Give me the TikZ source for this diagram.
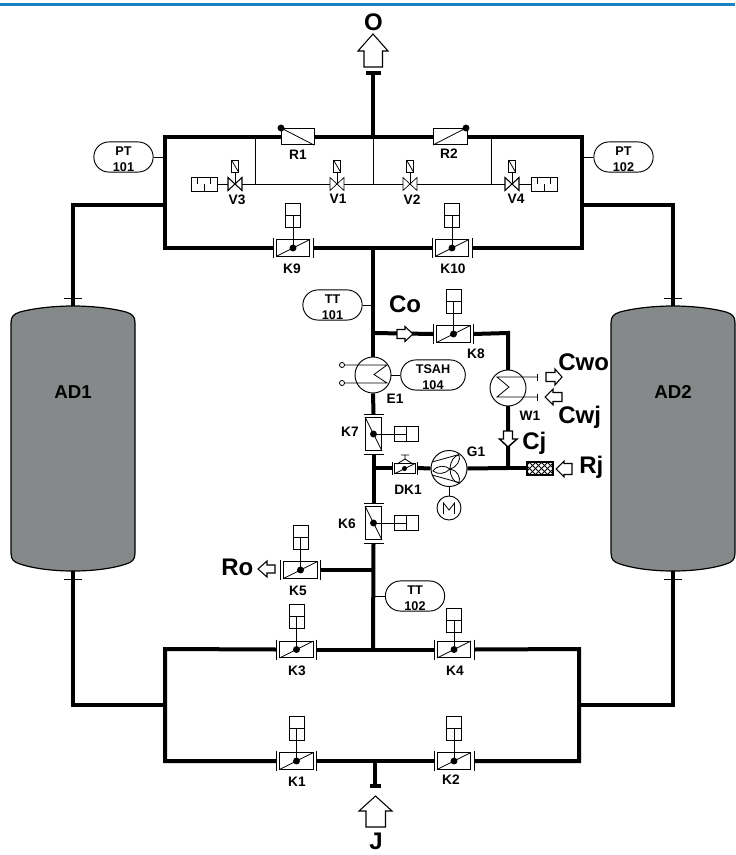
\documentclass[tikz,border=0pt]{standalone}
\usepackage{fontspec}
\setmainfont{Liberation Sans}
\usetikzlibrary{shapes.misc}
\definecolor{topblue}{RGB}{24,130,196}
\definecolor{tankgrey}{RGB}{134,137,138}
\newcommand{\tg}[2]{\rule{0pt}{10.5pt}#1\\#2}
\tikzset{
  pipe/.style={line width=3pt,line cap=butt,line join=miter},
  thin line/.style={line width=0.6pt},
  part/.style={draw,line width=0.7pt,fill=white},
  bx/.style={part,rectangle,inner sep=0pt},
  lab/.style={font=\bfseries\fontsize{10.3}{12}\selectfont,inner sep=0pt},
  biglab/.style={font=\bfseries\fontsize{18}{20}\selectfont,inner sep=0pt},
  tag/.style={draw,line width=0.7pt,fill=white,rounded rectangle,inner sep=0pt,align=center,
     minimum width=44.5pt,minimum height=21pt,font=\bfseries\fontsize{9.5}{12}\selectfont},
  circ/.style={draw,line width=0.7pt,fill=white,circle,inner sep=0pt,minimum size=27pt},
  dot/.style={fill=black,circle,inner sep=0pt,minimum size=5.2pt},
  tank/.style={draw,line width=0.9pt,fill=tankgrey},
  blockarrow/.style={draw,line width=0.8pt,fill=white,line join=miter},
}
% horizontal damper: name, x, y, actuator offset
\newcommand{\dampH}[4]{%
 \begin{scope}[shift={(#2,#3)}]
  \node[bx,minimum width=25pt,minimum height=12.6pt] (#1) at (0,0) {};
  \draw[thin line] (-17,8.5) -- (17,-8.5);
  \coordinate (#1L) at (-20,0); \coordinate (#1R) at (20,0);
  \draw[thin line] (-20,-10) -- (-20,10) (20,-10) -- (20,10);
  \coordinate (#1a) at (0,-33+#4);
  \draw[thin line] (#1a) -- (#1.center);
  \draw[part,fill=none] (-7.5,-45+#4) rectangle (7.5,-21+#4);
  \draw[thin line] (-7.5,-33+#4) -- (7.5,-33+#4);
  \node[dot] (#1d) at (0,0) {};
 \end{scope}}
% vertical damper: name, x, y
\newcommand{\dampV}[3]{%
 \begin{scope}[shift={(#2,#3)}]
  \node[bx,minimum width=12.6pt,minimum height=25pt] (#1) at (0,0) {};
  \draw[thin line] (-8.5,-17) -- (8.5,17);
  \coordinate (#1T) at (0,-20); \coordinate (#1B) at (0,20);
  \draw[thin line] (-10,-20) -- (10,-20) (-10,20) -- (10,20);
  \coordinate (#1a) at (33,0);
  \draw[thin line] (#1a) -- (#1.center);
  \draw[part,fill=none] (21,-7.5) rectangle (45,7.5);
  \draw[thin line] (33,-7.5) -- (33,7.5);
  \node[dot] (#1d) at (0,0) {};
 \end{scope}}
% needle valve: name, x, y, stroke
\newcommand{\needle}[4]{%
 \begin{scope}[shift={(#2,#3)}]
  \coordinate (#1) at (0,0);
  \draw[thin line] (0,0) -- (0,-12);
  \draw[line width=#4,fill=white,line join=miter] (-7,-6.5) -- (7,6.5) -- (7,-6.5) -- (-7,6.5) -- cycle;
  \draw[thin line,fill=white] (-3.5,-24) rectangle (3.5,-12);
  \draw[thin line] (-3.5,-24) -- (3.5,-12);
 \end{scope}}
\newcommand{\silencer}[3]{%
 \begin{scope}[shift={(#2,#3)}]
  \node[bx,minimum width=19.5pt,minimum height=9.8pt] (#1) at (0,0) {};
  \draw[thin line] (-6.5,-6.5) -- (-6.5,0) (0,6.5) -- (0,0) (6.5,-6.5) -- (6.5,0);
 \end{scope}}
\begin{document}
\begin{tikzpicture}[x=0.75pt,y=-0.75pt]
\useasboundingbox (0,0) rectangle (735,855);
\fill[topblue] (0,3) rectangle (735,6);

% junctions
\coordinate (tTL) at (165,137); \coordinate (tBL) at (165,248);
\coordinate (tTR) at (582,137); \coordinate (tBR) at (582,248);
\coordinate (tTC) at (373,137); \coordinate (tBC) at (373,248);
\coordinate (top) at (373,73);
\coordinate (bTL) at (165,649); \coordinate (bBL) at (165,761);
\coordinate (bTR) at (579,649); \coordinate (bBR) at (579,761);
\coordinate (bTC) at (373,649); \coordinate (bBC) at (375,761);
\coordinate (bot) at (375,786);
\coordinate (lU) at (165,205); \coordinate (rU) at (582,205);
\coordinate (lL) at (165,705); \coordinate (rL) at (579,705);
\coordinate (a1uc) at (73,205); \coordinate (a2uc) at (673,205);
\coordinate (a1lc) at (73,705); \coordinate (a2lc) at (673,705);
\coordinate (a1t) at (73,306); \coordinate (a1b) at (73,571);
\coordinate (a2t) at (673,306); \coordinate (a2b) at (673,571);
\coordinate (br8) at (373,333); \coordinate (cW) at (508,333);
\coordinate (j8) at (508,468); \coordinate (jD) at (373,468);
\coordinate (j5) at (373,570);
\coordinate (Rw) at (281,137); \coordinate (Re) at (314,137);
\coordinate (Sw) at (433,137); \coordinate (Se) at (467,137);

% tanks
\foreach \cx/\nm in {73/AD1,673/AD2}{
 \begin{scope}[shift={(\cx,0)}]
 \draw[tank] (-62,323) .. controls (-62,316) and (-59,314) .. (-53,312)
   .. controls (-38,308) and (-18,306) .. (0,306)
   .. controls (18,306) and (38,308) .. (53,312)
   .. controls (59,314) and (62,316) .. (62,323)
   -- (62,553) .. controls (62,560) and (59,562) .. (53,564)
   .. controls (38,569) and (18,571) .. (0,571)
   .. controls (-18,571) and (-38,569) .. (-53,564)
   .. controls (-59,562) and (-62,560) .. (-62,553) -- cycle;
 \end{scope}}
\node[font=\bfseries\fontsize{14}{16}\selectfont,inner sep=0pt] (AD1) at (73,392) {AD1};
\node[font=\bfseries\fontsize{14}{16}\selectfont,inner sep=0pt] (AD2) at (673,392) {AD2};
\draw[thin line] (64,298) -- (82,298) (64,579) -- (82,579) (664,298) -- (682,298) (664,579) -- (682,579);

% dampers
\dampH{K9}{293}{248}{0}
\dampH{K10}{452}{248}{0}
\dampH{K8}{453.5}{334}{0}
\dampH{K5}{300.5}{570}{0}
\dampH{K3}{296.5}{649.5}{0}
\dampH{K4}{454}{649.5}{4}
\dampH{K1}{296.5}{761}{0}
\dampH{K2}{454}{761}{0}
\dampV{K7}{373.5}{434}
\dampV{K6}{373.5}{523}

% main pipes
\draw[pipe] (Rw) -- (tTL) -- (tBL) -- (K9L);
\draw[pipe] (Se) -- (tTR) -- (tBR) -- (K10R);
\draw[pipe] (Re) -- (Sw);
\draw[pipe] (K9R) -- (K10L);
\draw[pipe] (top) -- (tTC);
\draw[pipe] (tBC) -- (373,357);
\draw[line width=3pt] (366,73) -- (381,73);
\draw[pipe] (lU) -- (a1uc) -- (a1t);
\draw[pipe] (rU) -- (a2uc) -- (a2t);
\draw[pipe] (a1b) -- (a1lc) -- (lL);
\draw[pipe] (a2b) -- (a2lc) -- (rL);
\draw[pipe] (K3L) -- (bTL) -- (bBL) -- (K1L);
\draw[pipe] (K4R) -- (bTR) -- (bBR) -- (K2R);
\draw[pipe] (K3R) -- (K4L);
\draw[pipe] (K1R) -- (K2L);
\draw[pipe] (bBC) -- (bot);
\draw[line width=3pt] (370,786) -- (381,786);
\draw[pipe] (K6B) -- (bTC);
\draw[pipe] (K7B) -- (K6T);
\draw[pipe] (K5R) -- (j5);
\draw[pipe] (br8) -- (K8L);
\draw[pipe] (K8R) -- (cW) -- (j8);
\draw[pipe] (j8) -- (527,468);

% R1 R2 check flaps
\node[bx,minimum width=24.7pt,minimum height=12.7pt] (R1box) at (297.5,136.5) {};
\draw[thin line] (281,128) -- (314,145);
\node[dot] (R1d) at (281,128) {};
\node[bx,minimum width=25.5pt,minimum height=12.7pt] (R2box) at (450,136.5) {};
\draw[thin line] (433,145) -- (466,128);
\node[dot] (R2d) at (466,128) {};

% thin instrument air branch
\coordinate (n1) at (255,137); \coordinate (n1b) at (255,184);
\coordinate (n2) at (373,137); \coordinate (n2b) at (373,184);
\coordinate (n3) at (491,137); \coordinate (n3b) at (491,184);
\draw[thin line] (n1) -- (n1b) (n2) -- (n2b) (n3) -- (n3b);
\silencer{S1}{204}{184.5}
\silencer{S2}{544}{184.5}
\draw[thin line] (S1.east) -- (S2.west);
\needle{V3}{235}{184}{0.8pt}
\needle{V1}{337}{184}{0.5pt}
\needle{V2}{410}{184}{0.5pt}
\needle{V4}{512}{184}{0.8pt}

% instrument tags
\node[tag] (PT1) at (123.5,157) {\tg{PT}{101}};
\node[tag] (PT2) at (623.5,157) {\tg{PT}{102}};
\node[tag] (TT1) at (332.5,305) {\tg{TT}{101}};
\node[tag] (TT2) at (415,596) {\tg{TT}{102}};
\draw[thin line] (PT1.east) -- (165,157);
\draw[thin line] (PT2.west) -- (582,157);
\draw[thin line] (TT1.east) -- (373,305);
\draw[thin line] (TT2.west) -- (373,596);

% E1
\node[circ] (E1) at (373,375) {};
\draw[pipe] (E1.south) -- (K7T);
\draw[thin line] (344.5,365) -- (387,365) -- (374,374.5) -- (387,383) -- (344.5,383);
\node[draw,thin line,circle,inner sep=0pt,minimum size=3.8pt] (e1a) at (342,365) {};
\node[draw,thin line,circle,inner sep=0pt,minimum size=3.8pt] (e1b) at (342,383) {};
\node[tag] (TS) at (433,375) {\tg{TSAH}{104}};
\draw[thin line] (E1.east) -- (TS.west);

% W1
\node[circ] (W1) at (508,388) {};
\draw[thin line] (537,377) -- (497,377) -- (509,387) -- (497,397) -- (537,397);
\draw[thin line] (537,373.5) -- (537,380.5) (537,393.5) -- (537,400.5);
\draw[blockarrow] (546,372.5) -- (555,372.5) -- (555,369) -- (562,377) -- (555,385) -- (555,381.5) -- (546,381.5) -- cycle;
\draw[blockarrow] (562,392.5) -- (553,392.5) -- (553,389) -- (545,397) -- (553,405) -- (553,401.5) -- (562,401.5) -- cycle;

% inline arrows
\draw[blockarrow] (397,329.5) -- (405,329.5) -- (405,326.5) -- (413,334) -- (405,341.5) -- (405,338.5) -- (397,338.5) -- cycle;
\draw[blockarrow,line width=1.1pt] (503.5,431) -- (512.5,431) -- (512.5,439) -- (517,439) -- (508,447) -- (499.5,439) -- (503.5,439) -- cycle;

% filter
\node[draw,line width=0.9pt,fill=white,rectangle,inner sep=0pt,minimum width=19.5pt,minimum height=9.8pt] (filt) at (540,468.5) {};
\begin{scope}
 \clip (527,462) rectangle (553,475);
 \foreach \d in {-16,-10,...,32}{
  \draw[line width=0.6pt] (527+\d,475) -- (527+\d+13,462);
  \draw[line width=0.6pt] (527+\d,462) -- (527+\d+13,475);
 }
\end{scope}
\draw[blockarrow] (572,463.5) -- (564,463.5) -- (564,461) -- (556,469) -- (564,477) -- (564,474.5) -- (572,474.5) -- cycle;

% DK1
\node[bx,minimum width=15.7pt,minimum height=7.6pt] (DK) at (404.5,468.5) {};
\draw[thin line] (394,474) -- (415,463.5);
\draw[thin line] (397,464) -- (405,459) -- (413,464) (405,459) -- (405,455) (401,455) -- (409,455);
\draw[thin line] (392,462) -- (392,475) (417,462) -- (417,475);
\node[dot,minimum size=3.8pt] (DKd) at (404.5,468.5) {};
\coordinate (DKl) at (392,468); \coordinate (DKr) at (417,468);
\draw[pipe] (jD) -- (DKl);
\node[circ] (G1) at (449,468.5) {};
\draw[pipe] (DKr) -- (G1.west);
\draw[pipe] (G1.east) -- (j8);
\draw[thin line] (432,462) -- (459,454.5) (432,475) -- (459,482.5);
\draw[thin line] (450,469) .. controls (450,461) and (455,455) .. (459,455) .. controls (461,460) and (457,467) .. (450,469);
\draw[thin line] (450,469) .. controls (457,470) and (461,477) .. (459,483) .. controls (454,483) and (450,476) .. (450,469);
\draw[thin line] (450,469) .. controls (445,474) and (438,475) .. (433,471) .. controls (437,465) and (445,465) .. (450,469);
\node[circ,minimum size=18pt] (M) at (449,508) {};
\draw[thin line] (G1.south) -- (M.north);
\draw[thin line] (443.5,514) -- (443.5,503) -- (449,510) -- (454.5,503) -- (454.5,514);

% flow arrows
\draw[blockarrow] (373,34) -- (388,51) -- (382.5,51) -- (382.5,67) -- (364,67) -- (364,51) -- (358,51) -- cycle;
\draw[blockarrow] (375.5,796) -- (392,811) -- (385.5,811) -- (385.5,827) -- (366,827) -- (366,811) -- (359,811) -- cycle;
\draw[blockarrow] (275,565) -- (267,565) -- (267,561) -- (258,569) -- (267,577) -- (267,573) -- (275,573) -- cycle;

% labels
\node[biglab] (lO) at (373.5,22) {O};
\node[biglab] (lJ) at (376,841) {J};
\node[biglab] (lCo) at (405,304) {Co};
\node[biglab,anchor=west] (lCwo) at (558,362) {Cwo};
\node[biglab,anchor=west] (lCwj) at (558,417) {Cwj};
\node[biglab,anchor=west] (lCj) at (522,443) {Cj};
\node[biglab,anchor=west] (lRj) at (579,467) {Rj};
\node[biglab,anchor=west] (lRo) at (221,567) {Ro};
\node[lab] (lR1) at (298,155) {R1};
\node[lab] (lR2) at (449,154) {R2};
\node[lab] (lV3) at (237,200) {V3};
\node[lab] (lV1) at (338,199) {V1};
\node[lab] (lV2) at (412,200) {V2};
\node[lab] (lV4) at (516,199) {V4};
\node[lab] (lK9) at (292,269) {K9};
\node[lab] (lK10) at (453,269) {K10};
\node[lab] (lK8) at (476,354) {K8};
\node[lab] (lE1) at (395,399) {E1};
\node[lab] (lW1) at (530,416) {W1};
\node[lab] (lK7) at (350,432) {K7};
\node[lab] (lG1) at (476,452) {G1};
\node[lab] (lDK) at (408,490) {DK1};
\node[lab] (lK6) at (347,524) {K6};
\node[lab] (lK5) at (298,591) {K5};
\node[lab] (lK3) at (297,671) {K3};
\node[lab] (lK4) at (455,671) {K4};
\node[lab] (lK1) at (297,782) {K1};
\node[lab] (lK2) at (451,780) {K2};
\end{tikzpicture}
\end{document}
